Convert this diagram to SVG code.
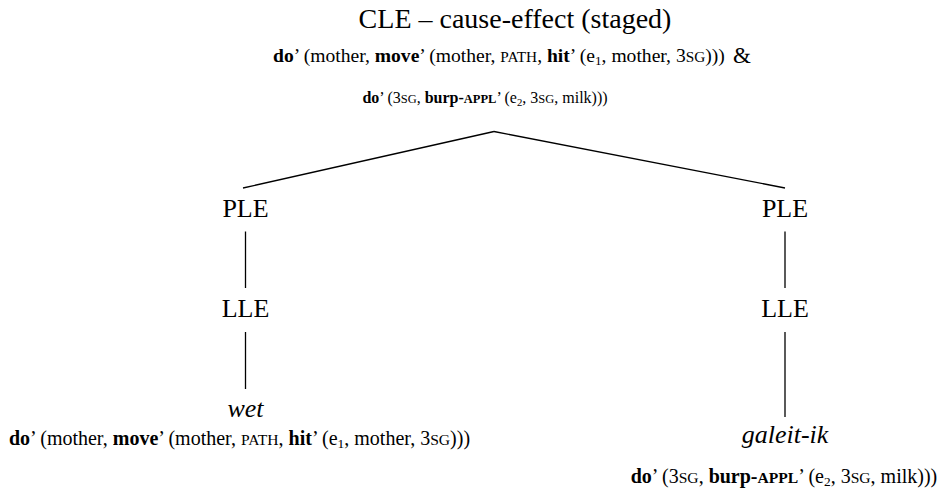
<svg xmlns="http://www.w3.org/2000/svg" width="951" height="497" viewBox="0 0 951 497">
<style>
text{font-family:"Liberation Serif","DejaVu Serif",serif;fill:#000}
.node{font-size:26px;text-anchor:middle}
.title{font-size:28px;text-anchor:middle}
.it{font-style:italic}
.f{font-size:20px}
.f2{font-size:19.6px}
.f3{font-size:16px}
.b{font-weight:bold}
.sc{font-size:0.78em}
.sub{font-size:0.67em}
.amp{font-size:23px}
.edge{stroke:#000;stroke-width:1.3;fill:none}
</style>
<rect width="951" height="497" fill="#fff"/>
<g id="root">
<text class="title" x="515" y="28">CLE – cause-effect (staged)</text>
<text class="f2" x="273" y="62"><tspan class="b">do</tspan>’ (mother, <tspan class="b">move</tspan>’ (mother, <tspan class="sc">PATH</tspan>, <tspan class="b">hit</tspan>’ (e<tspan class="sub" dy="3">1</tspan><tspan dy="-3">, mother, 3</tspan><tspan class="sc">SG</tspan>)))</text>
<text class="amp" x="733" y="63">&amp;</text>
<text class="f3" x="485" y="103" text-anchor="middle"><tspan class="b">do</tspan>’ (3<tspan class="sc">SG</tspan>, <tspan class="b">burp-</tspan><tspan class="b sc">APPL</tspan>’ (e<tspan class="sub" dy="3">2</tspan><tspan dy="-3">, 3</tspan><tspan class="sc">SG</tspan>, milk)))</text>
</g>
<g id="ple-left"><text class="node" x="245.5" y="217">PLE</text></g>
<g id="lle-left"><text class="node" x="245.5" y="317">LLE</text></g>
<g id="wet">
<text class="node it" x="245.5" y="417">wet</text>
<text class="f" x="239.5" y="445" text-anchor="middle"><tspan class="b">do</tspan>’ (mother, <tspan class="b">move</tspan>’ (mother, <tspan class="sc">PATH</tspan>, <tspan class="b">hit</tspan>’ (e<tspan class="sub" dy="3">1</tspan><tspan dy="-3">, mother, 3</tspan><tspan class="sc">SG</tspan>)))</text>
</g>
<g id="ple-right"><text class="node" x="785" y="217">PLE</text></g>
<g id="lle-right"><text class="node" x="785" y="317">LLE</text></g>
<g id="galeit-ik">
<text class="node it" x="785" y="443">galeit-ik</text>
<text class="f" x="784" y="483" text-anchor="middle"><tspan class="b">do</tspan>’ (3<tspan class="sc">SG</tspan>, <tspan class="b">burp-</tspan><tspan class="b sc">APPL</tspan>’ (e<tspan class="sub" dy="3">2</tspan><tspan dy="-3">, 3</tspan><tspan class="sc">SG</tspan>, milk)))</text>
</g>
<g id="connectors">
<line class="edge" x1="494" y1="131.5" x2="243" y2="188"/>
<line class="edge" x1="494" y1="131.5" x2="785" y2="188"/>
<line class="edge" x1="245.5" y1="231.5" x2="245.5" y2="288"/>
<line class="edge" x1="245.5" y1="332" x2="245.5" y2="389"/>
<line class="edge" x1="785" y1="231.5" x2="785" y2="288"/>
<line class="edge" x1="785" y1="332" x2="785" y2="417"/>
</g>
</svg>
